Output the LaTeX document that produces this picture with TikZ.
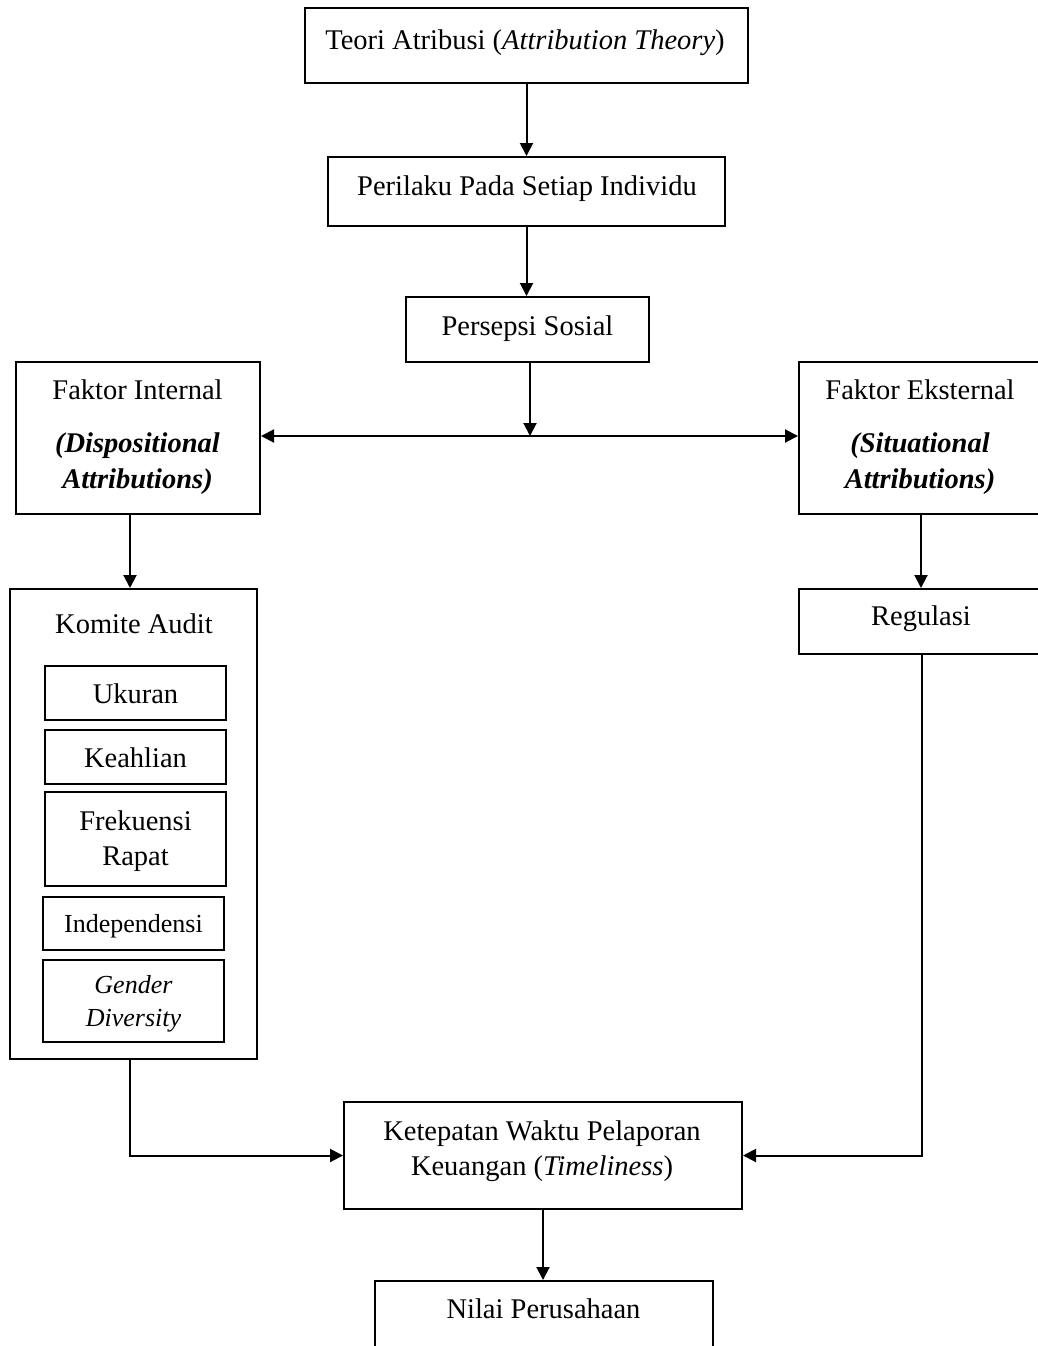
\documentclass[tikz,border=0pt]{standalone}
\usepackage{fontspec}
\setmainfont{Liberation Serif}
\usetikzlibrary{arrows.meta}
\begin{document}
\begin{tikzpicture}[x=1pt,y=-1pt,
  box/.style={draw,line width=2pt,inner sep=0pt},
  txt/.style={anchor=base,inner sep=0pt,font=\fontsize{28.5}{35}\selectfont},
  sml/.style={anchor=base,inner sep=0pt,font=\fontsize{26}{32}\selectfont},
  arr/.style={line width=2pt,-{Triangle[length=13pt,width=13pt]}},
  darr/.style={line width=2pt,{Triangle[length=13pt,width=13pt]}-{Triangle[length=13pt,width=13pt]}}]
\useasboundingbox (0,0) rectangle (1038,1346);
\clip (0,0) rectangle (1038,1346);
% boxes
\node[box,minimum width=443pt,minimum height=75pt] (b1) at (526.5,45.5) {};
\node[box,minimum width=397pt,minimum height=69pt] (b2) at (526.5,191.5) {};
\node[box,minimum width=243pt,minimum height=65pt] (b3) at (527.5,329.5) {};
\node[box,minimum width=244pt,minimum height=152pt] (fi) at (138,438) {};
\node[box,minimum width=244pt,minimum height=152pt] (fe) at (921,438) {};
\node[box,minimum width=247pt,minimum height=470pt] (ka) at (133.5,824) {};
\node[box,minimum width=181pt,minimum height=54pt] (uk) at (135.5,693) {};
\node[box,minimum width=181pt,minimum height=54pt] (ke) at (135.5,757) {};
\node[box,minimum width=181pt,minimum height=94pt] (fr) at (135.5,839) {};
\node[box,minimum width=181pt,minimum height=53pt] (in) at (133.5,923.5) {};
\node[box,minimum width=181pt,minimum height=82pt] (gd) at (133.5,1001) {};
\node[box,minimum width=244pt,minimum height=65pt] (rg) at (921,621.5) {};
\node[box,minimum width=398pt,minimum height=107pt] (tl) at (543,1155.5) {};
\node[box,minimum width=338pt,minimum height=80pt] (np) at (544,1321) {};
% texts
\node[txt] (t1) at (525,50) {Teori Atribusi (\textit{Attribution Theory})};
\node[txt] (t2) at (527,195) {Perilaku Pada Setiap Individu};
\node[txt] (t3) at (527.5,335) {Persepsi Sosial};
\node[txt] (tfi1) at (137.5,399) {Faktor Internal};
\node[txt] (tfi2) at (137.5,452) {\textbf{\textit{(Dispositional}}};
\node[txt] (tfi3) at (137.5,488) {\textbf{\textit{Attributions)}}};
\node[txt] (tfe1) at (920,399) {Faktor Eksternal};
\node[txt] (tfe2) at (920,452) {\textbf{\textit{(Situational}}};
\node[txt] (tfe3) at (920,488) {\textbf{\textit{Attributions)}}};
\node[txt] (tka) at (134,633) {Komite Audit};
\node[txt] (tuk) at (135.5,703) {Ukuran};
\node[txt] (tke) at (135.5,767) {Keahlian};
\node[txt] (tfr1) at (135.5,830) {Frekuensi};
\node[txt] (tfr2) at (135.5,865) {Rapat};
\node[sml] (tin) at (133.5,932) {Independensi};
\node[sml] (tgd1) at (133.5,993) {\textit{Gender}};
\node[sml] (tgd2) at (133.5,1026) {\textit{Diversity}};
\node[txt] (trg) at (921,625) {Regulasi};
\node[txt] (ttl1) at (542,1140) {Ketepatan Waktu Pelaporan};
\node[txt] (ttl2) at (542,1175) {Keuangan (\textit{Timeliness})};
\node[txt] (tnp) at (543.5,1318) {Nilai Perusahaan};
% connectors
\coordinate (mid) at (530,436);
\draw[arr] (b1.south) -- (b1.south |- b2.north);
\draw[arr] (b2.south) -- (b2.south |- b3.north);
\draw[arr] ([xshift=2.5pt]b3.south) -- (mid);
\draw[darr] (mid -| fi.east) -- (mid -| fe.west);
\draw[arr] ([xshift=-8pt]fi.south) -- ([xshift=-8pt]fi.south |- ka.north);
\draw[arr] (fe.south) -- (rg.north);
\draw[arr] ([xshift=-3.5pt]ka.south) |- (tl.west);
\draw[arr] ([xshift=1pt]rg.south) |- (tl.east);
\draw[arr] (tl.south) -- (tl.south |- np.north);
\end{tikzpicture}
\end{document}
